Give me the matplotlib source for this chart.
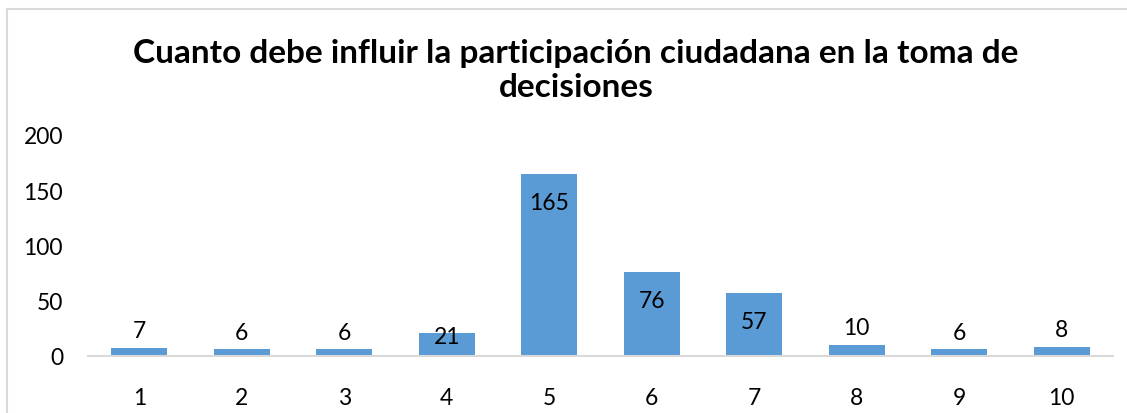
import matplotlib
matplotlib.use("Agg")
import matplotlib.pyplot as plt
from matplotlib.lines import Line2D

# ================= DATOS =================
categorias = ["1", "2", "3", "4", "5", "6", "7", "8", "9", "10"]
valores = [7, 6, 6, 21, 165, 76, 57, 10, 6, 8]
titulo = "Cuanto debe influir la participación ciudadana en la toma de\ndecisiones"
yticks = [0, 50, 100, 150, 200]

plt.rcParams['font.family'] = ['Lato', 'DejaVu Sans']

fig = plt.figure(figsize=(11.27, 4.14), dpi=100)
ax = fig.add_axes([0.0781, 0.1377, 0.9095, 0.5338])

x = range(len(categorias))
bars = ax.bar(x, valores, width=0.55, color="#5B9BD5", zorder=2)

ax.set_xlim(-0.5, len(categorias) - 0.5)
ax.set_ylim(0, 200)
ax.set_yticks(yticks)
ax.set_xticks(list(x))
ax.set_xticklabels(categorias)

for s in ["top", "right", "left"]:
    ax.spines[s].set_visible(False)
ax.spines["bottom"].set_color("#D9D9D9")
ax.spines["bottom"].set_linewidth(1.5)
ax.tick_params(axis="both", length=0, labelsize=16.5, colors="#000000")
ax.tick_params(axis="x", pad=22)
ax.tick_params(axis="y", pad=18)

# etiquetas de datos (estilo Excel: dentro del extremo si cabe)
for b, v in zip(bars, valores):
    cx = b.get_x() + b.get_width() / 2
    if v > 36:
        ax.annotate(str(v), (cx, v), xytext=(0, -20.5), textcoords="offset points",
                    ha="center", va="center", fontsize=16.5)
    elif v > 15:
        ax.annotate(str(v), (cx, 0), xytext=(0, 14), textcoords="offset points",
                    ha="center", va="center", fontsize=16.5)
    else:
        ax.annotate(str(v), (cx, v), xytext=(0, 12.5), textcoords="offset points",
                    ha="center", va="center", fontsize=16.5)

fig.text(0.511, 0.829, titulo, ha="center", va="center", fontsize=24,
         fontweight="bold", linespacing=1.22)

# borde del grafico
fig.add_artist(Line2D([0.0062, 0.0062], [0, 0.9758], transform=fig.transFigure,
                      color="#D9D9D9", lw=1.5))
fig.add_artist(Line2D([0.0062, 1], [0.9758, 0.9758], transform=fig.transFigure,
                      color="#D9D9D9", lw=1.5))

fig.savefig("out.png", dpi=100)
